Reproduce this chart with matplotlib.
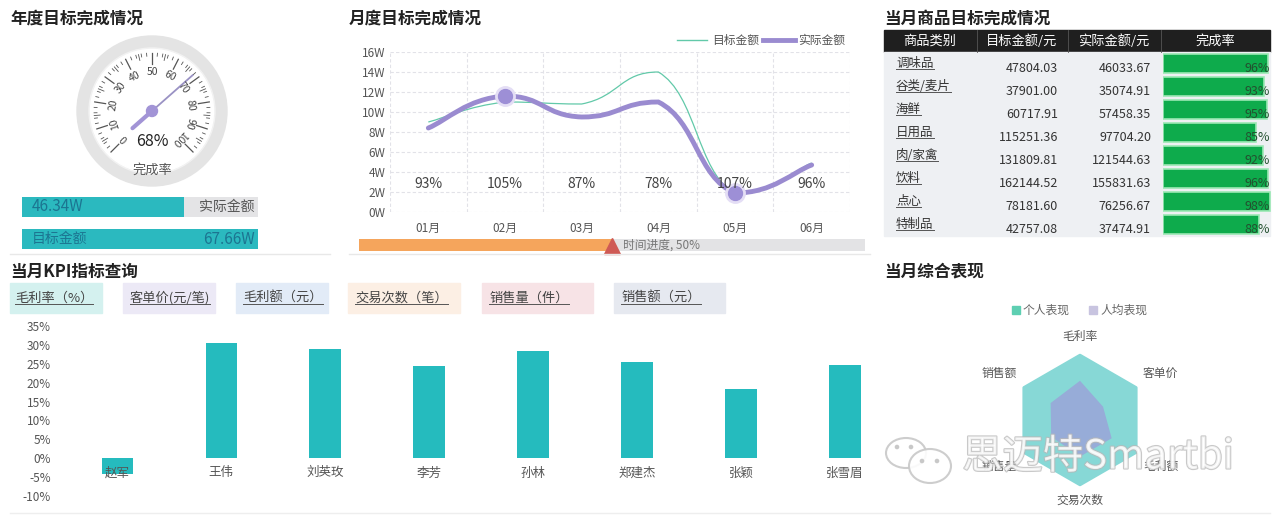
import numpy as np
import matplotlib
matplotlib.use("Agg")
import matplotlib.pyplot as plt
from matplotlib.patches import Rectangle, Circle, Ellipse, PathPatch
from matplotlib.path import Path
import matplotlib.patheffects as pe

plt.rcParams['font.family'] = ['Noto Sans CJK SC', 'DejaVu Sans']

# ---- données ----
gauge_value = 68
actual_total = 46.34
target_total = 67.66

months = ["01月", "02月", "03月", "04月", "05月", "06月"]
target_month = [9.0, 11.0, 10.8, 14.0, 1.78, 4.9]
actual_month = [8.4, 11.6, 9.5, 11.0, 1.9, 4.7]
month_rate = ["93%", "105%", "87%", "78%", "107%", "96%"]
time_progress = 0.50

categories = ["调味品", "谷类/麦片", "海鲜", "日用品", "肉/家禽", "饮料", "点心", "特制品"]
cat_target = ["47804.03", "37901.00", "60717.91", "115251.36", "131809.81", "162144.52", "78181.60", "42757.08"]
cat_actual = ["46033.67", "35074.91", "57458.35", "97704.20", "121544.63", "155831.63", "76256.67", "37474.91"]
cat_rate = [0.96, 0.93, 0.95, 0.85, 0.92, 0.96, 0.98, 0.88]

kpi_tabs = ["毛利率（%）", "客单价(元/笔)", "毛利额（元）", "交易次数（笔）", "销售量（件）", "销售额（元）"]
sales_people = ["赵军", "王伟", "刘英玫", "李芳", "孙林", "郑建杰", "张颖", "张雪眉"]
gross_margin = [-4.2, 30.5, 28.8, 24.3, 28.5, 25.6, 18.2, 24.8]

radar_axes = ["毛利率", "客单价", "毛利额", "交易次数", "销售量", "销售额"]
radar_personal = [1.0, 1.0, 1.0, 1.0, 1.0, 1.0]
radar_average = [0.59, 0.40, 0.55, 0.55, 0.50, 0.51]

W, H = 1280, 524
fig = plt.figure(figsize=(12.8, 5.24), dpi=100)

# calque en pixels pour les textes et décorations
ov = fig.add_axes([0, 0, 1, 1], zorder=5)
ov.set_xlim(0, W)
ov.set_ylim(H, 0)
ov.axis('off')
ov.patch.set_alpha(0)


def px_axes(x0, y0, x1, y1, **kw):
    return fig.add_axes([x0 / W, 1 - y1 / H, (x1 - x0) / W, (y1 - y0) / H], **kw)


underlined = []

# titres
for x, y, t in [(10, 19, "年度目标完成情况"), (349, 19, "月度目标完成情况"),
                (884, 19, "当月商品目标完成情况"), (10, 272, "当月KPI指标查询"),
                (884, 272, "当月综合表现")]:
    ov.text(x, y, t, fontsize=12, weight='bold', color='#222222', va='center')

# séparateurs
ov.plot([10, 330], [254, 254], color='#e8e8e8', lw=1)
ov.plot([349, 870], [254, 254], color='#e8e8e8', lw=1)
ov.plot([10, 1270], [513, 513], color='#eeeeee', lw=1)

# ---- jauge ----
cx, cy = 152, 111
ga = px_axes(cx - 80, cy - 80, cx + 80, cy + 80)
ga.set_xlim(-80, 80)
ga.set_ylim(-80, 80)
ga.set_aspect('equal')
ga.axis('off')
ga.add_patch(Circle((0, 0), 75, color='#e4e4e4'))
ga.add_patch(Circle((0, 0), 63, color='#f2f2f2'))
ga.add_patch(Circle((0, 0), 61.5, color='white'))


def ang(v):
    return np.deg2rad(225 - 2.7 * v)


for v in range(0, 101):
    if v % 10 == 0:
        r0 = 47
    elif v % 5 == 0:
        r0 = 52
    elif v % 2 == 0:
        r0 = 55
    else:
        continue
    a = ang(v)
    ga.plot([r0 * np.cos(a), 58 * np.cos(a)], [r0 * np.sin(a), 58 * np.sin(a)],
            color='#555555', lw=0.9 if v % 10 == 0 else 0.6)
for v in range(0, 101, 10):
    a = ang(v)
    ga.text(39 * np.cos(a), 39 * np.sin(a), str(v), fontsize=7.5, color='#444444',
            ha='center', va='center', rotation=np.rad2deg(a) - 90)
a = ang(gauge_value)
ga.plot([0, 54 * np.cos(a)], [0, 54 * np.sin(a)], color='#9a92c4', lw=1.3)
ga.plot([0, -26 * np.cos(a)], [0, -26 * np.sin(a)], color='#a294d6', lw=3,
        solid_capstyle='round')
ga.add_patch(Circle((0, 0), 5.5, color='#a294d6', zorder=5))
ga.text(0, -31, f"{gauge_value}%", fontsize=11.5, color='#222222', ha='center', va='center')
ga.text(0, -59, "完成率", fontsize=9.5, color='#555555', ha='center', va='center')

# barres montant
ba = px_axes(22, 197, 258, 249)
ba.set_xlim(0, target_total)
ba.set_ylim(1.3125, -0.3125)
ba.axis('off')
ba.barh(0, target_total, height=0.625, color='#e4e4e6')
ba.barh(0, actual_total, height=0.625, color='#2bb9bf')
ba.barh(1, target_total, height=0.625, color='#2bb9bf')
ba.text(target_total * 0.04, 0, f"{actual_total}W", fontsize=11, color='#1c7591', va='center')
ba.text(target_total * 0.985, 0, "实际金额", fontsize=10, color='#555555', va='center', ha='right')
ba.text(target_total * 0.04, 1, "目标金额", fontsize=10, color='#1c7591', va='center')
ba.text(target_total * 0.985, 1, f"{target_total}W", fontsize=11, color='#1c7591', va='center', ha='right')

# ---- courbe mensuelle ----
la = px_axes(390, 52, 850, 212)
la.set_xlim(-0.5, 5.5)
la.set_ylim(0, 16)
for s in la.spines.values():
    s.set_visible(False)
la.set_yticks(range(0, 17, 2))
la.set_yticklabels([f"{v}W" for v in range(0, 17, 2)])
la.set_xticks(range(len(months)))
la.set_xticklabels(months)
la.tick_params(length=0, labelsize=8.5, labelcolor='#555555')
la.tick_params(axis='x', pad=7)
for yv in range(0, 17, 2):
    la.axhline(yv, color='#e2e2e8', lw=0.8, ls=(0, (3, 2)), zorder=0)
for xv in np.arange(-0.5, 6, 1):
    la.axvline(xv, color='#e2e2e8', lw=0.8, ls=(0, (3, 2)), zorder=0)


def smooth_path(xs, ys, k=0.5):
    # courbe de Bézier lissée, points de contrôle bornés (pas de dépassement)
    pts = np.column_stack([xs, ys]).astype(float)
    verts = [pts[0]]
    codes = [Path.MOVETO]
    n = len(pts)
    for i in range(n - 1):
        p0 = pts[max(i - 1, 0)]
        p1 = pts[i]
        p2 = pts[i + 1]
        p3 = pts[min(i + 2, n - 1)]
        c1 = p1 + (p2 - p0) * k / 2
        c2 = p2 - (p3 - p1) * k / 2
        lo, hi = min(p1[1], p2[1]), max(p1[1], p2[1])
        c1[1] = np.clip(c1[1], lo, hi)
        c2[1] = np.clip(c2[1], lo, hi)
        verts += [c1, c2, p2]
        codes += [Path.CURVE4] * 3
    return Path(verts, codes)


xs = np.arange(len(months))
la.add_patch(PathPatch(smooth_path(xs, target_month), fc='none', ec='#62c9a9', lw=0.9, zorder=3))
la.add_patch(PathPatch(smooth_path(xs, actual_month), fc='none', ec='#9a8bd0', lw=3.5,
                       capstyle='round', zorder=4))
imax = int(np.argmax(actual_month))
imin = int(np.argmin(actual_month))
for i in (imax, imin):
    la.plot(xs[i], actual_month[i], 'o', ms=14, color='#e4def5', zorder=5)
    la.plot(xs[i], actual_month[i], 'o', ms=10, color='#9d8fd6', zorder=6)
for i, t in enumerate(month_rate):
    la.text(xs[i], 2.8, t, fontsize=10, color='#444444', ha='center', va='center', zorder=7)

# légende
ov.plot([677, 707], [40, 40], color='#62c9a9', lw=1)
ov.text(712, 40, "目标金额", fontsize=8.5, color='#555555', va='center')
ov.plot([763, 795], [40, 40], color='#9a8bd0', lw=3.5)
ov.text(798, 40, "实际金额", fontsize=8.5, color='#555555', va='center')

# progression temporelle
ta = px_axes(359, 239, 865, 251)
ta.set_xlim(0, 1)
ta.set_ylim(-0.5, 0.5)
ta.axis('off')
ta.barh(0, 1, height=1, color='#e3e3e5')
ta.barh(0, time_progress, height=1, color='#f5a55c')
ta.plot(time_progress, -0.05, marker='^', ms=11, color='#cf5a55', clip_on=False)
ta.text(time_progress + 0.022, 0, f"时间进度, {int(time_progress * 100)}%", fontsize=8.5,
        color='#777777', va='center')

# ---- tableau ----
ov.add_patch(Rectangle((884, 30), 386, 22, color='#1f1f1f'))
for xc, t in [(930, "商品类别"), (1022, "目标金额/元"), (1114, "实际金额/元"), (1215, "完成率")]:
    ov.text(xc, 41, t, fontsize=9.5, color='white', ha='center', va='center')
for xv in (977, 1068, 1161):
    ov.plot([xv, xv], [30, 52], color='#555555', lw=0.6)
ov.add_patch(Rectangle((884, 52), 386, 184, color='#eef0f3'))
for i, c in enumerate(categories):
    yc = 63.5 + 23 * i
    t = ov.text(896, yc, c, fontsize=9, color='#333333', va='center')
    underlined.append(t)
    ov.text(1058, yc + 5, cat_target[i], fontsize=9, color='#333333', va='center', ha='right')
    ov.text(1151, yc + 5, cat_actual[i], fontsize=9, color='#333333', va='center', ha='right')

tb = px_axes(1163, 52, 1272, 236, zorder=6)
tb.set_xlim(0, 1)
tb.set_ylim(7.5, -0.5)
tb.axis('off')
tb.patch.set_alpha(0)
tb.barh(range(len(cat_rate)), cat_rate, height=0.82, color='#0eab4c',
        edgecolor='#9be8b4', lw=1.2)
for i, r in enumerate(cat_rate):
    tb.text(0.985, i + 0.2, f"{int(round(r * 100))}%", fontsize=9, color='#23502f',
            ha='right', va='center')

# ---- onglets KPI ----
tab_x = [(10, 102), (123, 215), (236, 328), (348, 460), (482, 593), (614, 725)]
tab_c = ['#d4f1ef', '#ece9f6', '#e2ebf7', '#fcefe4', '#f7e3e6', '#e6e9f0']
for (x0, x1), c, t in zip(tab_x, tab_c, kpi_tabs):
    ov.add_patch(Rectangle((x0, 283), x1 - x0, 30, color=c))
    tt = ov.text(x0 + 7 if x0 > 10 else x0 + 5, 298, t, fontsize=9.5, color='#444444', va='center')
    underlined.append(tt)

# ---- barres KPI ----
ka = px_axes(62, 326, 870, 496)
ka.set_xlim(-0.53, 7.24)
ka.set_ylim(-10, 35)
for s in ka.spines.values():
    s.set_visible(False)
ka.bar(range(len(sales_people)), gross_margin, width=0.3, color='#25bbbe')
ka.set_yticks(range(-10, 36, 5))
ka.set_yticklabels([f"{v}%" for v in range(-10, 36, 5)])
ka.tick_params(axis='y', length=0, labelsize=8.5, labelcolor='#555555', pad=8)
ka.set_xticks([])
for i, n in enumerate(sales_people):
    ka.text(i, -3.9, n, fontsize=9, color='#555555', ha='center', va='center')

# ---- radar ----
rcx, rcy, rr = 1080, 420, 66.5
ra = px_axes(rcx - rr, rcy - rr, rcx + rr, rcy + rr, projection='polar')
ra.set_theta_offset(np.pi / 2)
ra.set_theta_direction(-1)
ra.set_ylim(0, 1)
ra.axis('off')
theta = np.linspace(0, 2 * np.pi, len(radar_axes), endpoint=False)
tc = np.append(theta, theta[0])
ra.fill(tc, np.append(radar_personal, radar_personal[0]), color='#87d8d6', lw=0)
ra.fill(tc, np.append(radar_average, radar_average[0]), color='#97acd8', lw=0)
label_r = [1.25, 1.4, 1.4, 1.2, 1.4, 1.4]
for th, lab, r in zip(theta, radar_axes, label_r):
    ra.text(th, r, lab, fontsize=8.5, color='#555555', ha='center', va='center')

ov.add_patch(Rectangle((1012, 306), 8, 8, color='#5ecfb2'))
ov.text(1023, 310, "个人表现", fontsize=8.5, color='#666666', va='center')
ov.add_patch(Rectangle((1089, 306), 8, 8, color='#c8c4e0'))
ov.text(1100, 310, "人均表现", fontsize=8.5, color='#666666', va='center')

# filigrane
ov.add_patch(Ellipse((906, 453), 40, 30, fc='none', ec='#c8c8c8', lw=1.5, alpha=0.9))
ov.add_patch(Ellipse((930, 466), 42, 34, fc=(1, 1, 1, 0.6), ec='#c8c8c8', lw=1.5, alpha=0.9))
for px_, py_ in [(897, 447), (911, 447), (922, 461), (937, 461)]:
    ov.add_patch(Circle((px_, py_), 1.6, color='#c8c8c8'))
ov.text(1098, 457, "思迈特Smartbi", fontsize=29, color='white', alpha=0.75,
        ha='center', va='center',
        path_effects=[pe.withStroke(linewidth=1.6, foreground='#b8b8b8')])

# soulignements
fig.canvas.draw()
rend = fig.canvas.get_renderer()
inv = ov.transData.inverted()
for t in underlined:
    bb = t.get_window_extent(rend)
    (x0, y0), (x1, y1) = inv.transform([[bb.x0, bb.y0], [bb.x1, bb.y1]])
    ov.plot([x0, x1], [y0 - 1, y0 - 1], color='#555555', lw=0.7)

fig.savefig("out.png", dpi=100)
